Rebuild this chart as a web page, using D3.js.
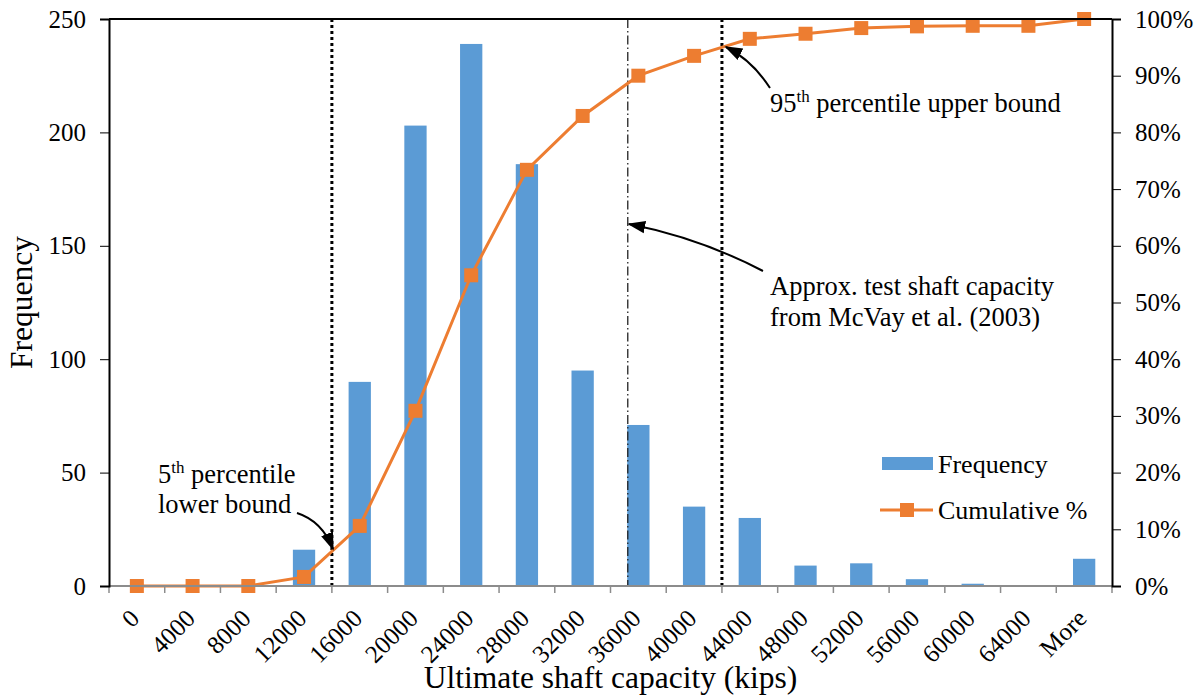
<!DOCTYPE html>
<html>
<head>
<meta charset="utf-8">
<script src="https://cdn.jsdelivr.net/npm/d3@7/dist/d3.min.js"></script>
<style>
  body { margin: 0; background: #fff; }
  text { font-family: "Liberation Serif", "Times New Roman", serif; fill: #000; }
</style>
</head>
<body>
<script>
// datos
var categories = ["0", "4000", "8000", "12000", "16000", "20000", "24000", "28000", "32000",
    "36000", "40000", "44000", "48000", "52000", "56000", "60000", "64000", "More"];
var frequency = [0, 0, 0, 16, 90, 203, 239, 186, 95, 71, 35, 30, 9, 10, 3, 1, 0, 12];
var cumulative = [0, 0, 0, 1.6, 10.6, 30.9, 54.8, 73.4, 82.9, 90.0, 93.5, 96.5, 97.4, 98.4, 98.7, 98.8, 98.8, 100];
var freqTicks = [0, 50, 100, 150, 200, 250];
var pctTicks = [0, 10, 20, 30, 40, 50, 60, 70, 80, 90, 100];
// líneas verticales de referencia (posición en número de bins)
var refLines = [
    {pos: 4, type: "dot"},
    {pos: 9.31, type: "dashdot"},
    {pos: 11, type: "dot"}
];

var W = 1202, H = 696;
var margin = {top: 19, right: 90, bottom: 110, left: 109};
var width = W - margin.left - margin.right;
var height = H - margin.top - margin.bottom;

var blue = "#5B9BD5", orange = "#ED7D31";

var svg = d3.select("body").append("svg")
    .attr("width", W)
    .attr("height", H);

var g = svg.append("g")
    .attr("transform", `translate(${margin.left}, ${margin.top})`);

// escalas
var x = d3.scaleBand()
    .domain(categories)
    .range([0, width])
    .paddingInner(0.6)
    .paddingOuter(0.3);

var xIdx = d3.scaleLinear()
    .domain([0, categories.length])
    .range([0, width]);

var y = d3.scaleLinear().domain([0, 250]).range([height, 0]);
var y2 = d3.scaleLinear().domain([0, 100]).range([height, 0]);

var cx = d => x(d) + x.bandwidth() / 2;

// barras
g.selectAll("rect.bar")
    .data(frequency)
    .enter()
    .append("rect")
    .attr("class", "bar")
    .attr("x", (d, i) => x(categories[i]))
    .attr("width", x.bandwidth())
    .attr("y", d => y(d))
    .attr("height", d => height - y(d))
    .attr("fill", blue);

// líneas de referencia
refLines.forEach(r => {
    g.append("line")
        .attr("x1", xIdx(r.pos)).attr("x2", xIdx(r.pos))
        .attr("y1", 0).attr("y2", height)
        .attr("stroke", r.type == "dot" ? "#000" : "#222")
        .attr("stroke-width", r.type == "dot" ? 3 : 1.3)
        .attr("stroke-dasharray", r.type == "dot" ? "3,3" : "9,3,1.5,3");
});

// curva acumulada
var line = d3.line()
    .x((d, i) => cx(categories[i]))
    .y(d => y2(d));

g.append("path")
    .datum(cumulative)
    .attr("d", line)
    .attr("fill", "none")
    .attr("stroke", orange)
    .attr("stroke-width", 3);

g.selectAll("rect.marker")
    .data(cumulative)
    .enter()
    .append("rect")
    .attr("class", "marker")
    .attr("x", (d, i) => cx(categories[i]) - 7)
    .attr("y", d => y2(d) - 7)
    .attr("width", 14)
    .attr("height", 14)
    .attr("fill", orange);

// ejes
g.append("line")
    .attr("x1", 0).attr("x2", width).attr("y1", height).attr("y2", height)
    .attr("stroke", "#8c8c8c").attr("stroke-width", 2);

g.selectAll("line.xtick")
    .data(d3.range(categories.length + 1))
    .enter()
    .append("line")
    .attr("class", "xtick")
    .attr("x1", d => xIdx(d)).attr("x2", d => xIdx(d))
    .attr("y1", height).attr("y2", height + 7)
    .attr("stroke", "#8c8c8c").attr("stroke-width", 1.5);

g.selectAll("text.xlabel")
    .data(categories)
    .enter()
    .append("text")
    .attr("class", "xlabel")
    .attr("text-anchor", "end")
    .attr("transform", d => `translate(${cx(d) + 4}, ${height + 34}) rotate(-45)`)
    .style("font-size", "25px")
    .text(d => d);

// borde superior
g.append("line")
    .attr("x1", 0).attr("x2", width).attr("y1", 0).attr("y2", 0)
    .attr("stroke", "#000").attr("stroke-width", 2);

var yAxis = d3.axisLeft(y).tickValues(freqTicks).tickSize(9).tickPadding(14);
var yAxisG = g.append("g").call(yAxis);
yAxisG.select(".domain").attr("stroke-width", 2);
yAxisG.selectAll("text").style("font-size", "25px").style("font-family", "Liberation Serif");

var yAxis2 = d3.axisRight(y2).tickValues(pctTicks).tickSize(9).tickPadding(14)
    .tickFormat(d => d + "%");
var yAxis2G = g.append("g").attr("transform", `translate(${width}, 0)`).call(yAxis2);
yAxis2G.select(".domain").attr("stroke-width", 2);
yAxis2G.selectAll("text").style("font-size", "25px").style("font-family", "Liberation Serif");

// títulos de ejes
svg.append("text")
    .attr("x", margin.left + width / 2)
    .attr("y", 688)
    .attr("text-anchor", "middle")
    .style("font-size", "31.5px")
    .text("Ultimate shaft capacity (kips)");

svg.append("text")
    .attr("transform", `translate(32, ${margin.top + height / 2}) rotate(-90)`)
    .attr("text-anchor", "middle")
    .style("font-size", "31.5px")
    .text("Frequency");

// leyenda
var legend = svg.append("g");
legend.append("rect")
    .attr("x", 882).attr("y", 457).attr("width", 51).attr("height", 13)
    .attr("fill", blue);
legend.append("text")
    .attr("x", 938).attr("y", 473)
    .style("font-size", "26px")
    .text("Frequency");
legend.append("line")
    .attr("x1", 880).attr("x2", 933).attr("y1", 510).attr("y2", 510)
    .attr("stroke", orange).attr("stroke-width", 3);
legend.append("rect")
    .attr("x", 900).attr("y", 503).attr("width", 14).attr("height", 14)
    .attr("fill", orange);
legend.append("text")
    .attr("x", 938).attr("y", 519)
    .style("font-size", "26px")
    .text("Cumulative %");

// anotaciones con flechas
svg.append("defs").append("marker")
    .attr("id", "arrow")
    .attr("viewBox", "0 0 10 10")
    .attr("refX", 9).attr("refY", 5)
    .attr("markerWidth", 9).attr("markerHeight", 9)
    .attr("markerUnits", "strokeWidth")
    .attr("orient", "auto")
    .append("path")
    .attr("d", "M0,1.5 L10,5 L0,8.5 Z")
    .attr("fill", "#000");

function arrow(p) {
    svg.append("path")
        .attr("d", p)
        .attr("fill", "none")
        .attr("stroke", "#000")
        .attr("stroke-width", 2)
        .attr("marker-end", "url(#arrow)");
}

function supLabel(xp, yp, num, rest) {
    var t = svg.append("text").attr("x", xp).attr("y", yp).style("font-size", "26.5px");
    t.append("tspan").text(num);
    t.append("tspan").attr("dy", -10).style("font-size", "17px").text("th");
    t.append("tspan").attr("dy", 10).text(" " + rest);
}

supLabel(158, 483, "5", "percentile");
svg.append("text").attr("x", 158).attr("y", 513).style("font-size", "26.5px").text("lower bound");
arrow("M297,513 Q322,521 333,549");

supLabel(770, 112, "95", "percentile upper bound");
arrow("M770,88 Q752,60 726,47");

svg.append("text").attr("x", 770).attr("y", 295).style("font-size", "26.5px").text("Approx. test shaft capacity");
svg.append("text").attr("x", 770).attr("y", 326).style("font-size", "26.5px").text("from McVay et al. (2003)");
arrow("M763,271 Q700,238 629,224");
</script>
</body>
</html>
